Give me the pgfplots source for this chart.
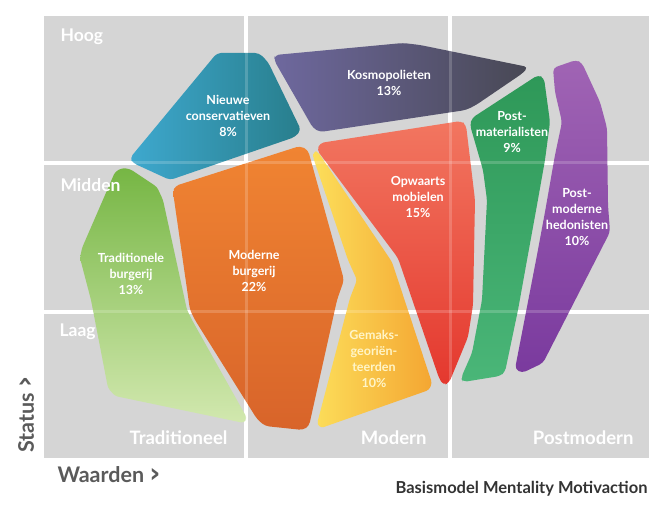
\documentclass[border=0pt]{standalone}
\usepackage{pgfplots}
\pgfplotsset{compat=1.18}
\usepackage{fontspec}
\setmainfont{Lato}
\newfontfamily\dv{DejaVu Sans}
\definecolor{cellgray}{HTML}{D5D5D5}
\definecolor{txtgray}{HTML}{5A5A5A}
\definecolor{capgray}{HTML}{333333}
\begin{document}
\begin{tikzpicture}
\begin{axis}[width=666pt,height=510pt,scale only axis,xmin=0,xmax=666,ymin=0,ymax=510,
  y dir=reverse,hide axis,clip=false]
% full frame (keeps the picture at 666 x 510)
\addplot[draw=none] coordinates {(0,0)(666,0)(666,510)(0,510)};
% grid cells
\addplot[fill=cellgray,draw=none] coordinates {(44,16)(244,16)(244,161)(44,161)} -- cycle;
\addplot[fill=cellgray,draw=none] coordinates {(248,16)(448,16)(448,161)(248,161)} -- cycle;
\addplot[fill=cellgray,draw=none] coordinates {(452,16)(649,16)(649,161)(452,161)} -- cycle;
\addplot[fill=cellgray,draw=none] coordinates {(44,165)(244,165)(244,310)(44,310)} -- cycle;
\addplot[fill=cellgray,draw=none] coordinates {(248,165)(448,165)(448,310)(248,310)} -- cycle;
\addplot[fill=cellgray,draw=none] coordinates {(452,165)(649,165)(649,310)(452,310)} -- cycle;
\addplot[fill=cellgray,draw=none] coordinates {(44,314)(244,314)(244,458)(44,458)} -- cycle;
\addplot[fill=cellgray,draw=none] coordinates {(248,314)(448,314)(448,458)(248,458)} -- cycle;
\addplot[fill=cellgray,draw=none] coordinates {(452,314)(649,314)(649,458)(452,458)} -- cycle;
% Nieuwe conservatieven
\addplot[draw=none,rounded corners=4pt,left color={rgb,255:red,62;green,168;blue,206},right color={rgb,255:red,40;green,126;blue,140}]
 coordinates {(130,158)(217,53)(259,53)(268,62)(301,130)(295,137)(170,180)(133,163)} -- cycle;
% Kosmopolieten
\addplot[draw=none,rounded corners=4pt,left color={rgb,255:red,110;green,104;blue,158},right color={rgb,255:red,72;green,72;blue,84}]
 coordinates {(275,55)(403,43)(420,45)(528,67)(523,73)(476,105)(466,110)(320,132)(313,128)(274,60)} -- cycle;
% Opwaarts mobielen
\addplot[draw=none,rounded corners=4pt,shading angle=60,top color={rgb,255:red,242;green,118;blue,96},bottom color={rgb,255:red,228;green,56;blue,46}]
 coordinates {(320,143)(461,121)(466,125)(475,200)(473,305)(468,337)(449,383)(443,385)(439,378)(398,258)(317,150)} -- cycle;
% Gemaksgeorienteerden
\addplot[draw=none,rounded corners=3pt,left color={rgb,255:red,252;green,222;blue,90},right color={rgb,255:red,244;green,166;blue,50}]
 coordinates {(314,151)(318,152)(392,262)(432,383)(429,390)(321,428)(317,424)(350,298)(357,280)(348,260)(313,157)} -- cycle;
% Moderne burgerij
\addplot[draw=none,rounded corners=4pt,top color={rgb,255:red,240;green,132;blue,50},bottom color={rgb,255:red,216;green,100;blue,42}]
 coordinates {(175,186)(300,146)(308,150)(344,280)(337,300)(309,426)(303,430)(265,426)(257,419)(195,320)(190,310)(173,192)} -- cycle;
% Traditionele burgerij
\addplot[draw=none,rounded corners=3pt,shading angle=35,top color={rgb,255:red,118;green,182;blue,68},bottom color={rgb,255:red,210;green,232;blue,175}]
 coordinates {(115,172)(122,168)(130,169)(157,187)(163,200)(187,310)(192,320)(247,418)(244,423)(115,396)(108,388)(91,300)(80,258)(82,248)} -- cycle;
% Post-materialisten
\addplot[draw=none,rounded corners=4pt,top color={rgb,255:red,46;green,152;blue,88},bottom color={rgb,255:red,74;green,182;blue,120}]
 coordinates {(472,118)(538,75)(544,78)(550,122)(545,160)(537,205)(527,260)(518,310)(505,372)(500,376)(463,382)(461,378)(472,353)(482,300)(487,200)(483,170)(470,125)} -- cycle;
% Postmoderne hedonisten
\addplot[draw=none,rounded corners=4pt,top color={rgb,255:red,160;green,100;blue,180},bottom color={rgb,255:red,122;green,58;blue,158}]
 coordinates {(553,68)(576,60)(582,63)(600,102)(607,128)(608,205)(610,232)(543,363)(522,373)(515,369)(537,255)(545,212)(555,155)(562,122)(555,92)} -- cycle;
% faint grid lines through shapes
\addplot[white,opacity=0.18,line width=3pt] coordinates {(246,16)(246,458)};
\addplot[white,opacity=0.18,line width=3pt] coordinates {(450,16)(450,458)};
\addplot[white,opacity=0.18,line width=3pt] coordinates {(44,163)(649,163)};
\addplot[white,opacity=0.18,line width=3pt] coordinates {(44,312)(649,312)};
% axis words
\tikzset{cellw/.style={white,font=\fontsize{17.5}{17.5}\selectfont\bfseries}}
\node[anchor=west,cellw] at (axis cs:57,37) {Hoog};
\node[anchor=west,cellw] at (axis cs:57,185) {Midden};
\node[anchor=west,cellw] at (axis cs:56,332) {Laag};
\tikzset{botw/.style={white,font=\fontsize{18.5}{18.5}\selectfont\bfseries}}
\node[anchor=east,botw] at (axis cs:231,438) {Traditioneel};
\node[anchor=east,botw] at (axis cs:430,438) {Modern};
\node[anchor=east,botw] at (axis cs:637,438) {Postmodern};
\node[anchor=west,txtgray,font=\fontsize{21.5}{21.5}\selectfont\bfseries] at (axis cs:54,475) {Waarden {\dv\fontsize{27}{27}\selectfont\bfseries ›}};
\node[anchor=west,rotate=90,txtgray,font=\fontsize{21.5}{21.5}\selectfont\bfseries] at (axis cs:26,456) {Status {\dv\fontsize{27}{27}\selectfont\bfseries ›}};
\node[anchor=east,capgray,font=\fontsize{16.5}{16.5}\selectfont\bfseries] at (axis cs:651,489) {Basismodel Mentality Motivaction};
% segment labels
\tikzset{seg/.style={white,font=\fontsize{12.5}{16}\selectfont\bfseries,align=center}}
\node[seg] at (axis cs:228,116) {Nieuwe\\conservatieven\\8\%};
\node[seg] at (axis cs:389,83) {Kosmopolieten\\13\%};
\node[seg] at (axis cs:512,132) {Post-\\materialisten\\9\%};
\node[seg] at (axis cs:418,197) {Opwaarts\\mobielen\\15\%};
\node[seg] at (axis cs:577,217) {Post-\\moderne\\hedonisten\\10\%};
\node[seg] at (axis cs:131,274) {Traditionele\\burgerij\\13\%};
\node[seg] at (axis cs:254,271) {Moderne\\burgerij\\22\%};
\node[seg,text={rgb,255:red,255;green,245;blue,200}] at (axis cs:374,359) {Gemaks-\\georiën-\\teerden\\10\%};
\end{axis}
\end{tikzpicture}
\end{document}
